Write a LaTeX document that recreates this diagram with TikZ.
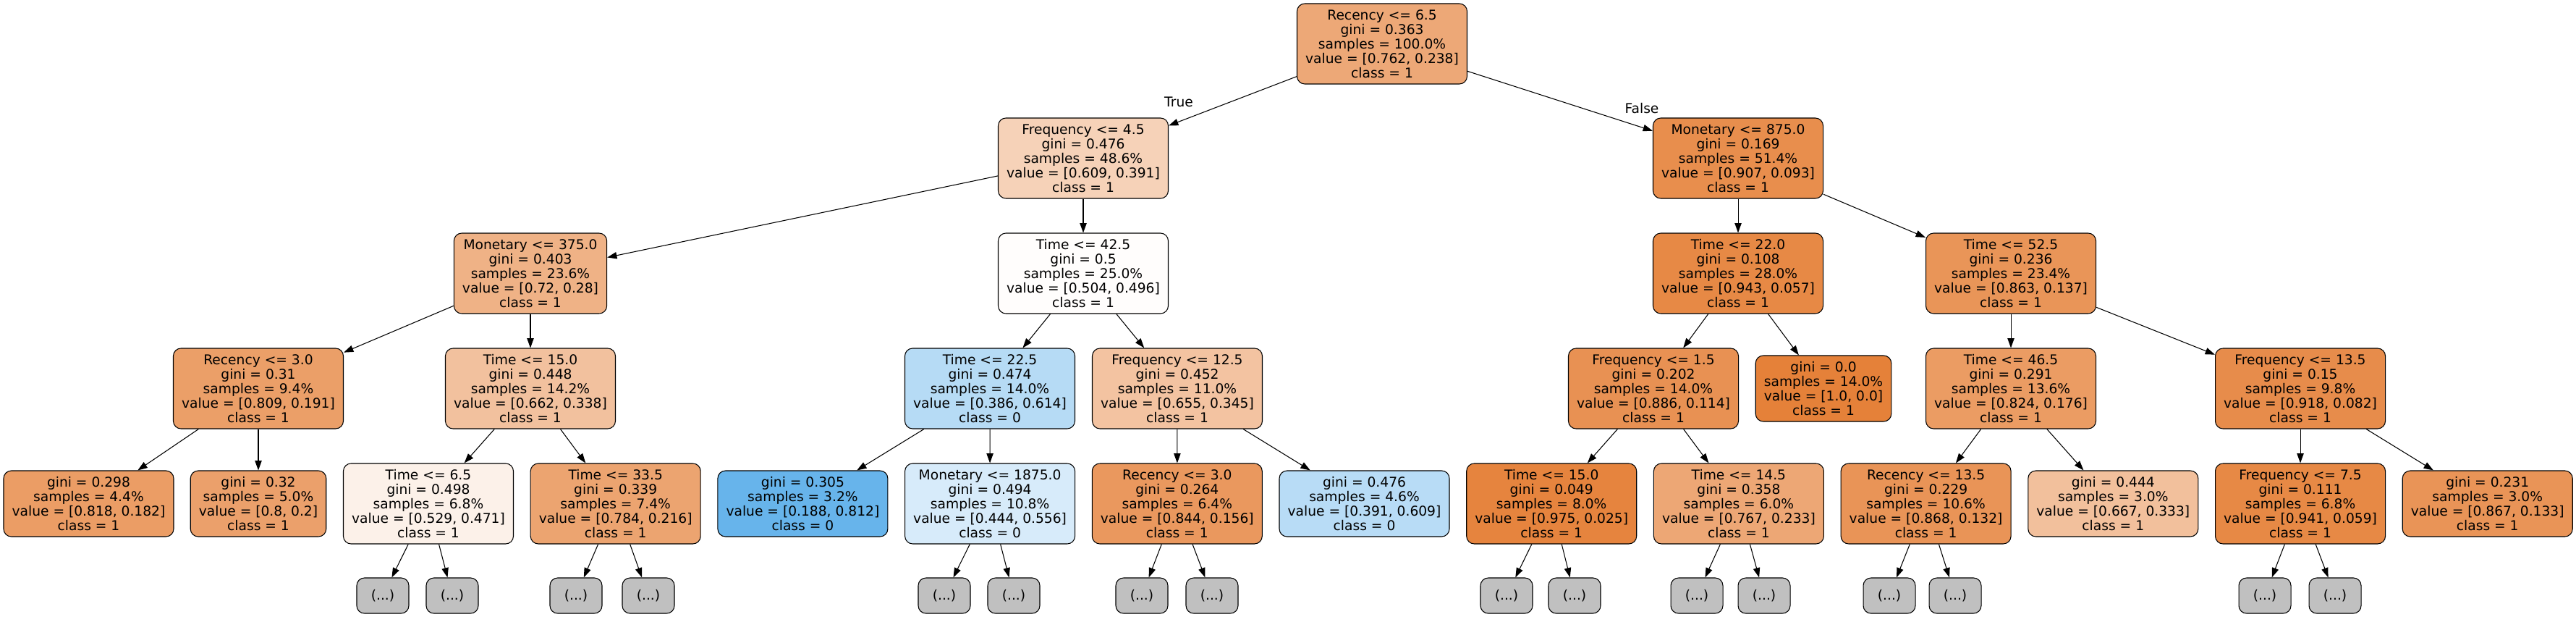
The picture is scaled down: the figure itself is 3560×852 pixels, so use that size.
\documentclass[tikz,border=0pt]{standalone}
\usepackage{fontspec}
\setmainfont{DejaVu Sans}
\usetikzlibrary{arrows.meta}
\definecolor{dto}{RGB}{229,129,57}
\definecolor{dtb}{RGB}{57,157,229}
\definecolor{ell}{RGB}{192,192,192}
\tikzset{
  tn/.style={draw=black, line width=0.8pt, rounded corners=8pt, align=center,
    inner xsep=8.7pt, inner ysep=0pt, minimum height=83.25pt,
    font=\fontsize{14}{15}\selectfont},
  lf/.style={tn, minimum height=68.25pt},
  el/.style={tn, fill=ell, minimum width=54pt, minimum height=36.75pt, inner xsep=0pt},
  edge/.style={draw=black, line width=0.8pt, -{Triangle[length=10pt,width=7pt]}},
  lbl/.style={font=\fontsize{14}{15}\selectfont, inner sep=0pt}
}
\begin{document}
\begin{tikzpicture}[x=0.75pt,y=-0.75pt]
\useasboundingbox (0,0) rectangle (3560,852);
% level 0
\node[tn, fill=dto!68.8!white] (n0) at (1910,60.5) {Recency <= 6.5\\gini = 0.363\\samples = 100.0\%\\value = [0.762, 0.238]\\class = 1};
% level 1
\node[tn, fill=dto!35.8!white] (n1) at (1497,218.5) {Frequency <= 4.5\\gini = 0.476\\samples = 48.6\%\\value = [0.609, 0.391]\\class = 1};
\node[tn, fill=dto!89.7!white] (n2) at (2402,218.5) {Monetary <= 875.0\\gini = 0.169\\samples = 51.4\%\\value = [0.907, 0.093]\\class = 1};
% level 2
\node[tn, fill=dto!61.1!white] (n3) at (733,377.5) {Monetary <= 375.0\\gini = 0.403\\samples = 23.6\%\\value = [0.72, 0.28]\\class = 1};
\node[tn, fill=dto!1.6!white] (n4) at (1497,377.5) {Time <= 42.5\\gini = 0.5\\samples = 25.0\%\\value = [0.504, 0.496]\\class = 1};
\node[tn, fill=dto!94.0!white] (n5) at (2402,377.5) {Time <= 22.0\\gini = 0.108\\samples = 28.0\%\\value = [0.943, 0.057]\\class = 1};
\node[tn, fill=dto!84.1!white] (n6) at (2779,377.5) {Time <= 52.5\\gini = 0.236\\samples = 23.4\%\\value = [0.863, 0.137]\\class = 1};
% level 3
\node[tn, fill=dto!76.4!white] (n7) at (357,536.5) {Recency <= 3.0\\gini = 0.31\\samples = 9.4\%\\value = [0.809, 0.191]\\class = 1};
\node[tn, fill=dto!48.9!white] (n8) at (733,536.5) {Time <= 15.0\\gini = 0.448\\samples = 14.2\%\\value = [0.662, 0.338]\\class = 1};
\node[tn, fill=dtb!37.1!white] (n9) at (1368,536.5) {Time <= 22.5\\gini = 0.474\\samples = 14.0\%\\value = [0.386, 0.614]\\class = 0};
\node[tn, fill=dto!47.3!white] (n10) at (1627,536.5) {Frequency <= 12.5\\gini = 0.452\\samples = 11.0\%\\value = [0.655, 0.345]\\class = 1};
\node[tn, fill=dto!87.1!white] (n11) at (2285,536.5) {Frequency <= 1.5\\gini = 0.202\\samples = 14.0\%\\value = [0.886, 0.114]\\class = 1};
\node[lf, fill=dto] (n12) at (2520,536.5) {gini = 0.0\\samples = 14.0\%\\value = [1.0, 0.0]\\class = 1};
\node[tn, fill=dto!78.6!white] (n13) at (2779,536.5) {Time <= 46.5\\gini = 0.291\\samples = 13.6\%\\value = [0.824, 0.176]\\class = 1};
\node[tn, fill=dto!91.1!white] (n14) at (3179,536.5) {Frequency <= 13.5\\gini = 0.15\\samples = 9.8\%\\value = [0.918, 0.082]\\class = 1};
% level 4
\node[lf, fill=dto!77.8!white] (n15) at (122.5,695.5) {gini = 0.298\\samples = 4.4\%\\value = [0.818, 0.182]\\class = 1};
\node[lf, fill=dto!75!white] (n16) at (357,695.5) {gini = 0.32\\samples = 5.0\%\\value = [0.8, 0.2]\\class = 1};
\node[tn, fill=dto!11.0!white] (n17) at (592,695.5) {Time <= 6.5\\gini = 0.498\\samples = 6.8\%\\value = [0.529, 0.471]\\class = 1};
\node[tn, fill=dto!72.4!white] (n18) at (850.7,695.5) {Time <= 33.5\\gini = 0.339\\samples = 7.4\%\\value = [0.784, 0.216]\\class = 1};
\node[lf, fill=dtb!76.8!white] (n19) at (1109.4,695.5) {gini = 0.305\\samples = 3.2\%\\value = [0.188, 0.812]\\class = 0};
\node[tn, fill=dtb!20.1!white] (n20) at (1368.1,695.5) {Monetary <= 1875.0\\gini = 0.494\\samples = 10.8\%\\value = [0.444, 0.556]\\class = 0};
\node[tn, fill=dto!81.5!white] (n21) at (1626.8,695.5) {Recency <= 3.0\\gini = 0.264\\samples = 6.4\%\\value = [0.844, 0.156]\\class = 1};
\node[lf, fill=dtb!35.8!white] (n22) at (1885.5,695.5) {gini = 0.476\\samples = 4.6\%\\value = [0.391, 0.609]\\class = 0};
\node[tn, fill=dto!97.4!white] (n23) at (2144.2,695.5) {Time <= 15.0\\gini = 0.049\\samples = 8.0\%\\value = [0.975, 0.025]\\class = 1};
\node[tn, fill=dto!69.6!white] (n24) at (2402.9,695.5) {Time <= 14.5\\gini = 0.358\\samples = 6.0\%\\value = [0.767, 0.233]\\class = 1};
\node[tn, fill=dto!84.8!white] (n25) at (2661.6,695.5) {Recency <= 13.5\\gini = 0.229\\samples = 10.6\%\\value = [0.868, 0.132]\\class = 1};
\node[lf, fill=dto!50.1!white] (n26) at (2920.3,695.5) {gini = 0.444\\samples = 3.0\%\\value = [0.667, 0.333]\\class = 1};
\node[tn, fill=dto!93.7!white] (n27) at (3179,695.5) {Frequency <= 7.5\\gini = 0.111\\samples = 6.8\%\\value = [0.941, 0.059]\\class = 1};
\node[lf, fill=dto!84.7!white] (n28) at (3437.7,695.5) {gini = 0.231\\samples = 3.0\%\\value = [0.867, 0.133]\\class = 1};
% level 5
\node[el] (e1) at (529,822.5) {(...)};
\node[el] (e2) at (625,822.5) {(...)};
\node[el] (e3) at (796,822.5) {(...)};
\node[el] (e4) at (896,822.5) {(...)};
\node[el] (e5) at (1305,822.5) {(...)};
\node[el] (e6) at (1401,822.5) {(...)};
\node[el] (e7) at (1578,822.5) {(...)};
\node[el] (e8) at (1675,822.5) {(...)};
\node[el] (e9) at (2082,822.5) {(...)};
\node[el] (e10) at (2176,822.5) {(...)};
\node[el] (e11) at (2345,822.5) {(...)};
\node[el] (e12) at (2438,822.5) {(...)};
\node[el] (e13) at (2611,822.5) {(...)};
\node[el] (e14) at (2702,822.5) {(...)};
\node[el] (e15) at (3130,822.5) {(...)};
\node[el] (e16) at (3227,822.5) {(...)};
% labels
\node[lbl] (tl) at (1629,141) {True};
\node[lbl] (fl) at (2269,150) {False};
% edges
\draw[edge] (n0) -- (n1);
\draw[edge] (n0) -- (n2);
\draw[edge] (n1) -- (n3);
\draw[edge] (n1) -- (n4);
\draw[edge] (n2) -- (n5);
\draw[edge] (n2) -- (n6);
\draw[edge] (n3) -- (n7);
\draw[edge] (n3) -- (n8);
\draw[edge] (n4) -- (n9);
\draw[edge] (n4) -- (n10);
\draw[edge] (n5) -- (n11);
\draw[edge] (n5) -- (n12);
\draw[edge] (n6) -- (n13);
\draw[edge] (n6) -- (n14);
\draw[edge] (n7) -- (n15);
\draw[edge] (n7) -- (n16);
\draw[edge] (n8) -- (n17);
\draw[edge] (n8) -- (n18);
\draw[edge] (n9) -- (n19);
\draw[edge] (n9) -- (n20);
\draw[edge] (n10) -- (n21);
\draw[edge] (n10) -- (n22);
\draw[edge] (n11) -- (n23);
\draw[edge] (n11) -- (n24);
\draw[edge] (n13) -- (n25);
\draw[edge] (n13) -- (n26);
\draw[edge] (n14) -- (n27);
\draw[edge] (n14) -- (n28);
\draw[edge] (n17) -- (e1);
\draw[edge] (n17) -- (e2);
\draw[edge] (n18) -- (e3);
\draw[edge] (n18) -- (e4);
\draw[edge] (n20) -- (e5);
\draw[edge] (n20) -- (e6);
\draw[edge] (n21) -- (e7);
\draw[edge] (n21) -- (e8);
\draw[edge] (n23) -- (e9);
\draw[edge] (n23) -- (e10);
\draw[edge] (n24) -- (e11);
\draw[edge] (n24) -- (e12);
\draw[edge] (n25) -- (e13);
\draw[edge] (n25) -- (e14);
\draw[edge] (n27) -- (e15);
\draw[edge] (n27) -- (e16);
\end{tikzpicture}
\end{document}
